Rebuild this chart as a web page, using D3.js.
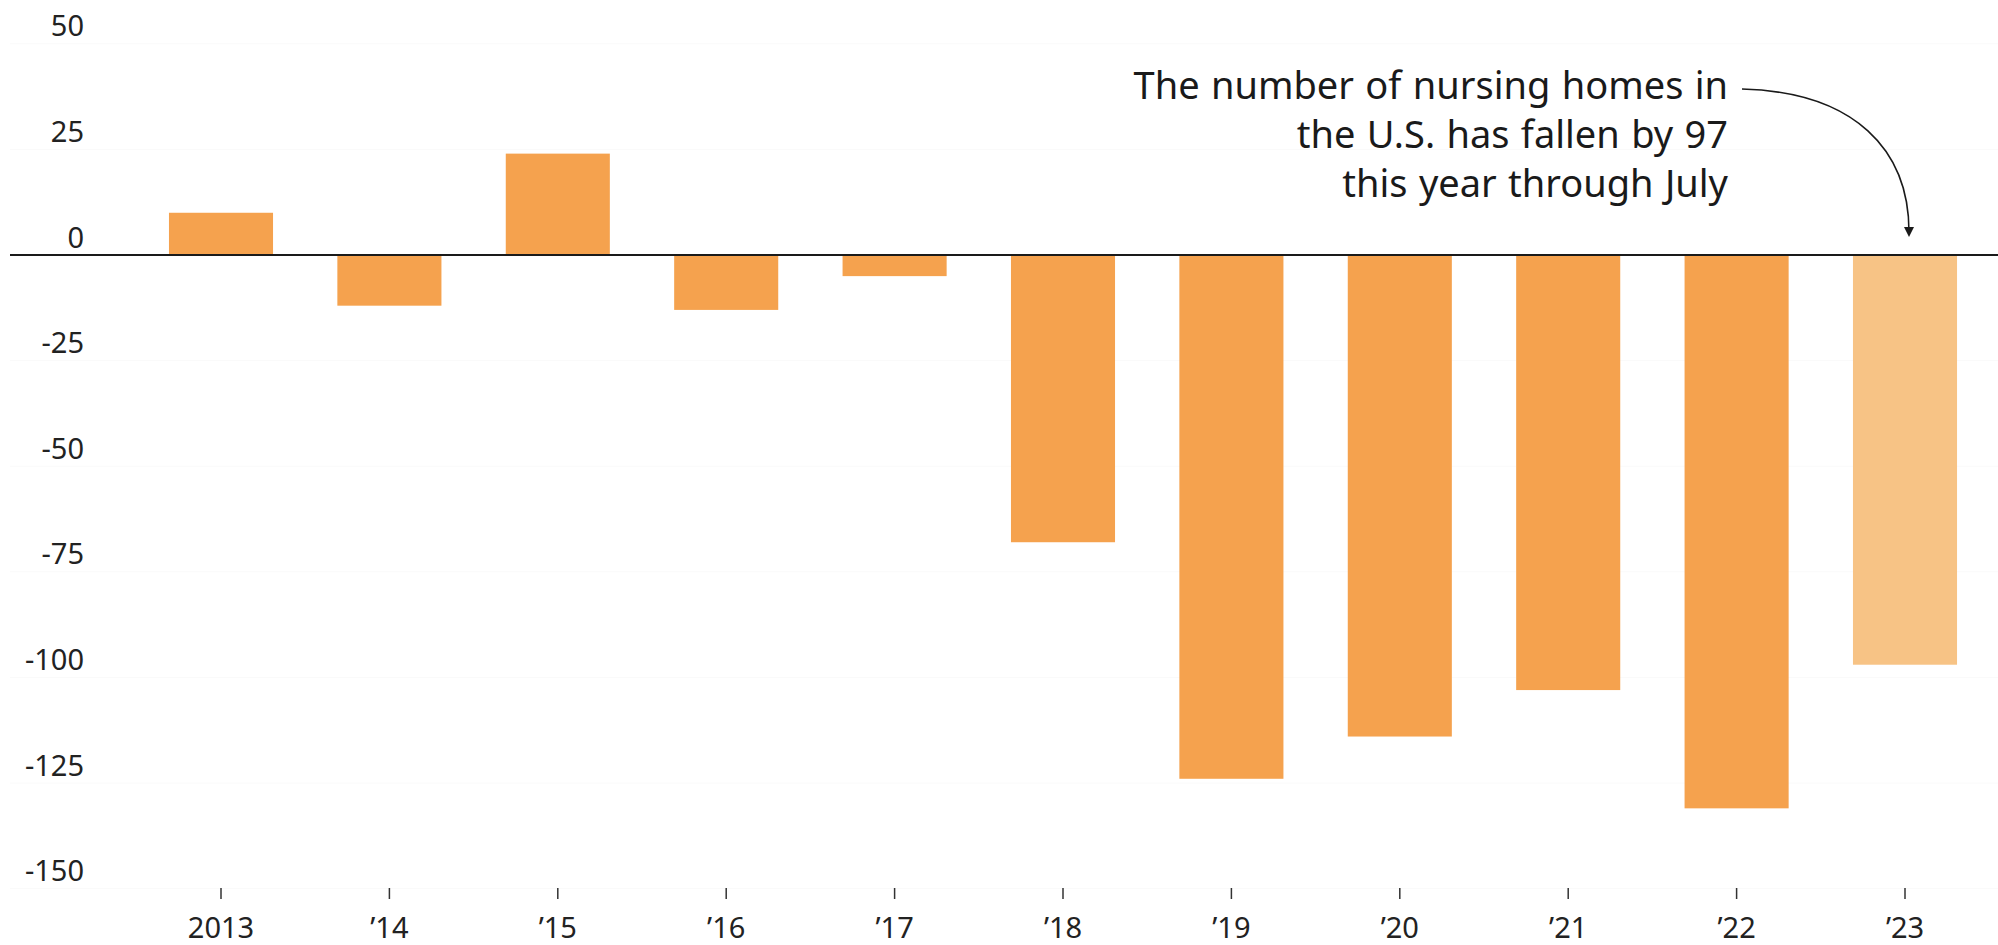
<!DOCTYPE html>
<html>
<head>
<meta charset="utf-8">
<script src="https://cdn.jsdelivr.net/npm/d3@7"></script>
<style>
  html, body { margin: 0; padding: 0; background: #ffffff; }
  svg { display: block; }
  text { font-family: "Noto Sans", "Open Sans", sans-serif; }
</style>
</head>
<body>
<svg id="chart" width="1998" height="945"></svg>
<script>
const years = ["2013", "’14", "’15", "’16", "’17", "’18", "’19", "’20", "’21", "’22", "’23"];
const changes = [10, -12, 24, -13, -5, -68, -124, -114, -103, -131, -97];
const partialYear = ["’23"];
const yTicks = [50, 25, 0, -25, -50, -75, -100, -125, -150];
const annotationLines = [
  "The number of nursing homes in",
  "the U.S. has fallen by 97",
  "this year through July"
];

const W = 1998, H = 945;
const svg = d3.select("#chart");

const x = d3.scaleBand()
  .domain(years)
  .range([136.8, 1989.2])
  .paddingInner(0.382)
  .paddingOuter(0.191);

const y = d3.scaleLinear()
  .domain([-150, 50])
  .range([888.6, 43.8]);

const data = years.map((yr, i) => ({ year: yr, value: changes[i] }));

// very faint gridlines
svg.append("g")
  .selectAll("line")
  .data(yTicks.filter(t => t !== 0))
  .join("line")
  .attr("x1", 10).attr("x2", W)
  .attr("y1", d => y(d)).attr("y2", d => y(d))
  .attr("stroke", "#fafafa")
  .attr("stroke-width", 1);

// y axis labels (sitting above their value), plain hyphen minus
const yAxis = d3.axisLeft(y).tickValues(yTicks).tickSize(0).tickPadding(0)
  .tickFormat(d => String(d));
const gy = svg.append("g").attr("transform", "translate(84,0)").call(yAxis);
gy.select(".domain").remove();
gy.selectAll("text")
  .attr("font-size", 29)
  .attr("fill", "#222")
  .attr("dy", -8)
  .style("font-family", "'Noto Sans', sans-serif");

// bars
svg.append("g")
  .selectAll("rect")
  .data(data)
  .join("rect")
  .attr("x", d => x(d.year))
  .attr("width", x.bandwidth())
  .attr("y", d => y(Math.max(0, d.value)))
  .attr("height", d => Math.abs(y(d.value) - y(0)))
  .attr("fill", d => partialYear.includes(d.year) ? "#F7C385" : "#F5A24E");

// zero baseline
svg.append("line")
  .attr("x1", 10).attr("x2", W)
  .attr("y1", y(0)).attr("y2", y(0))
  .attr("stroke", "#1a1a1a")
  .attr("stroke-width", 2.2);

// x axis
const xAxis = d3.axisBottom(x).tickSize(11).tickPadding(18);
const gx = svg.append("g").attr("transform", "translate(0,888)").call(xAxis);
gx.select(".domain").remove();
gx.selectAll(".tick line").attr("stroke", "#333").attr("stroke-width", 1.5);
gx.selectAll("text")
  .attr("font-size", 29)
  .attr("fill", "#222")
  .style("font-family", "'Noto Sans', sans-serif");

// annotation
const ann = svg.append("text")
  .attr("text-anchor", "end")
  .attr("font-size", 38)
  .attr("word-spacing", 1.5)
  .attr("fill", "#1a1a1a");
annotationLines.forEach((line, i) => {
  ann.append("tspan")
    .attr("x", 1728)
    .attr("y", 99 + i * 49)
    .text(line);
});

// arrow
const defs = svg.append("defs");
defs.append("marker")
  .attr("id", "arrowhead")
  .attr("viewBox", "0 0 10 10")
  .attr("refX", 5).attr("refY", 5)
  .attr("markerWidth", 10).attr("markerHeight", 10)
  .attr("markerUnits", "userSpaceOnUse")
  .attr("orient", "auto")
  .append("path")
  .attr("d", "M0,0 L10,5 L0,10 Z")
  .attr("fill", "#1a1a1a");

const target = x("’23") + x.bandwidth() / 2 + 4;
const path = d3.path();
path.moveTo(1742, 89);
path.bezierCurveTo(1855, 92, target, 150, target, 232);
svg.append("path")
  .attr("d", path.toString())
  .attr("fill", "none")
  .attr("stroke", "#1a1a1a")
  .attr("stroke-width", 1.6)
  .attr("marker-end", "url(#arrowhead)");
</script>
</body>
</html>
